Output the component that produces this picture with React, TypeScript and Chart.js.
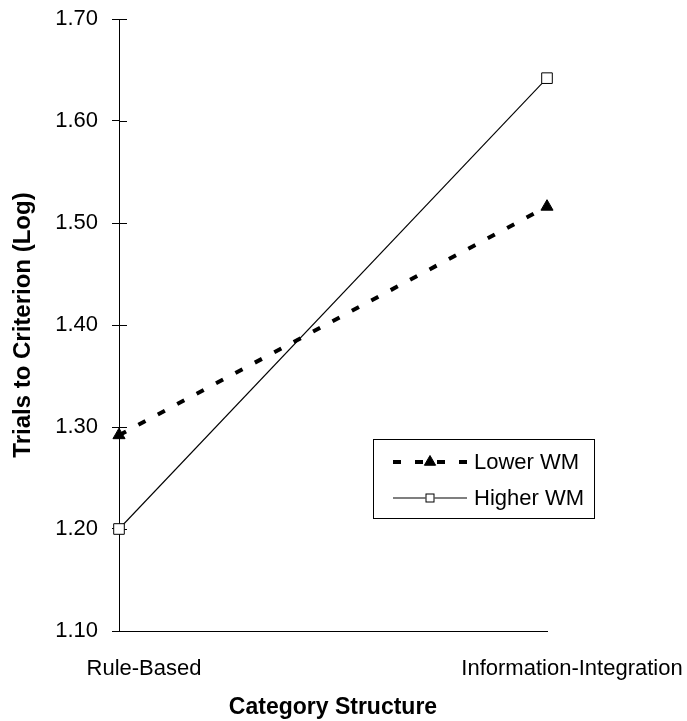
import React, { useEffect, useRef } from 'react';
import { Chart, registerables } from 'chart.js';

Chart.register(...registerables);

const categories = ['Rule-Based', 'Information-Integration'];
const seriesNames = ['Lower WM', 'Higher WM'];
const lowerWM = [1.292, 1.516];
const higherWM = [1.2, 1.642];
const yMin = 1.1;
const yMax = 1.7;
const yStep = 0.1;
const xTitle = 'Category Structure';
const yTitle = 'Trials to Criterion (Log)';

const FONT = '"Liberation Sans", Arial, Helvetica, sans-serif';

const crossTicks = {
  id: 'crossTicks',
  beforeDatasetsDraw(chart: any) {
    const y = chart.scales.y;
    const ctx = chart.ctx;
    ctx.save();
    ctx.strokeStyle = '#000';
    ctx.lineWidth = 1;
    y.ticks.forEach((t: any) => {
      const py = Math.round(y.getPixelForValue(t.value)) + 0.5;
      ctx.beginPath();
      ctx.moveTo(chart.chartArea.left, py);
      ctx.lineTo(chart.chartArea.left + 8, py);
      ctx.stroke();
    });
    ctx.restore();
  },
};

const boxLegend = {
  id: 'boxLegend',
  afterDraw(chart: any) {
    const ctx = chart.ctx;
    const boxLeft = 373;
    const boxTop = 439;
    const boxH = 79;
    const rows = [462, 498];
    const lx0 = 393;
    const lx1 = 467;
    const mx = 430;
    const tx = 474;
    ctx.save();
    ctx.font = `22px ${FONT}`;
    const tw = Math.max(...seriesNames.map((n) => ctx.measureText(n).width));
    const boxRight = tx + tw + 10;
    ctx.fillStyle = '#fff';
    ctx.fillRect(boxLeft, boxTop, boxRight - boxLeft, boxH);
    ctx.strokeStyle = '#000';
    ctx.lineWidth = 1;
    ctx.strokeRect(boxLeft + 0.5, boxTop + 0.5, boxRight - boxLeft, boxH);
    chart.data.datasets.forEach((ds: any, i: number) => {
      const y = rows[i];
      ctx.strokeStyle = '#000';
      ctx.lineWidth = ds.borderWidth;
      ctx.setLineDash(ds.borderDash || []);
      ctx.lineCap = 'butt';
      ctx.beginPath();
      ctx.moveTo(lx0, y);
      ctx.lineTo(lx1, y);
      ctx.stroke();
      ctx.setLineDash([]);
      ctx.lineWidth = 1;
      if (ds.pointStyle === 'triangle') {
        const r = 6.5;
        ctx.fillStyle = '#000';
        ctx.beginPath();
        ctx.moveTo(mx, y - r);
        ctx.lineTo(mx + r * 0.866, y + r * 0.5);
        ctx.lineTo(mx - r * 0.866, y + r * 0.5);
        ctx.closePath();
        ctx.fill();
        ctx.stroke();
      } else {
        const s = 9;
        ctx.fillStyle = '#fff';
        ctx.fillRect(mx - s / 2, y - s / 2, s, s);
        ctx.strokeRect(mx - s / 2 + 0.5, y - s / 2 + 0.5, s - 1, s - 1);
      }
      ctx.fillStyle = '#000';
      ctx.textBaseline = 'middle';
      ctx.textAlign = 'left';
      ctx.fillText(seriesNames[i], tx, y + 1);
    });
    ctx.restore();
  },
};

export default function App() {
  const ref = useRef<HTMLCanvasElement | null>(null);
  useEffect(() => {
    if (!ref.current) return;
    const chart = new Chart(ref.current, {
      type: 'line',
      data: {
        labels: categories,
        datasets: [
          {
            label: seriesNames[0],
            data: lowerWM,
            borderColor: '#000',
            backgroundColor: '#000',
            borderWidth: 4,
            borderDash: [8, 14],
            borderCapStyle: 'butt',
            pointStyle: 'triangle',
            pointRadius: 7,
            pointBorderWidth: 1,
            pointBackgroundColor: '#000',
            pointBorderColor: '#000',
            tension: 0,
            clip: false,
          } as any,
          {
            label: seriesNames[1],
            data: higherWM,
            borderColor: '#000',
            backgroundColor: '#fff',
            borderWidth: 1.1,
            pointStyle: 'rect',
            pointRadius: 7.5,
            pointBorderWidth: 1,
            pointBackgroundColor: '#fff',
            pointBorderColor: '#000',
            tension: 0,
            clip: false,
          } as any,
        ],
      },
      options: {
        animation: false,
        responsive: true,
        maintainAspectRatio: false,
        layout: { padding: { left: 0, top: 19, right: 140, bottom: 0 } },
        plugins: {
          legend: { display: false },
          tooltip: { enabled: false },
        },
        scales: {
          x: {
            type: 'category',
            offset: false,
            grid: { display: false },
            border: { display: true, color: '#000', width: 1 },
            ticks: {
              color: '#000',
              font: { family: FONT, size: 22 },
              padding: 17,
              labelOffset: 25,
              maxRotation: 0,
              autoSkip: false,
            },
            title: {
              display: true,
              text: xTitle,
              color: '#000',
              font: { family: FONT, size: 23, weight: 'bold' },
              padding: { top: 0, bottom: 0 },
            },
            afterFit(scale: any) {
              scale.height = 90;
              scale.paddingLeft = 0;
              scale.paddingRight = 0;
            },
          },
          y: {
            min: yMin,
            max: yMax,
            grid: {
              display: true,
              drawOnChartArea: false,
              drawTicks: true,
              tickLength: 7,
              color: '#000',
            },
            border: { display: true, color: '#000', width: 1 },
            ticks: {
              stepSize: yStep,
              color: '#000',
              font: { family: FONT, size: 22 },
              padding: 14,
              callback: (v: any) => Number(v).toFixed(2),
            },
            title: {
              display: true,
              text: yTitle,
              color: '#000',
              font: { family: FONT, size: 24, weight: 'bold' },
              padding: { top: 9, bottom: 0 },
            },
            afterFit(scale: any) {
              scale.width = 119;
              scale.paddingTop = 0;
              scale.paddingBottom = 0;
            },
          },
        },
      } as any,
      plugins: [crossTicks, boxLegend],
    });
    return () => chart.destroy();
  }, []);
  return (
    <div style={{ position: 'absolute', left: 0, top: 0, width: 687, height: 721, background: '#fff' }}>
      <canvas ref={ref} />
    </div>
  );
}
